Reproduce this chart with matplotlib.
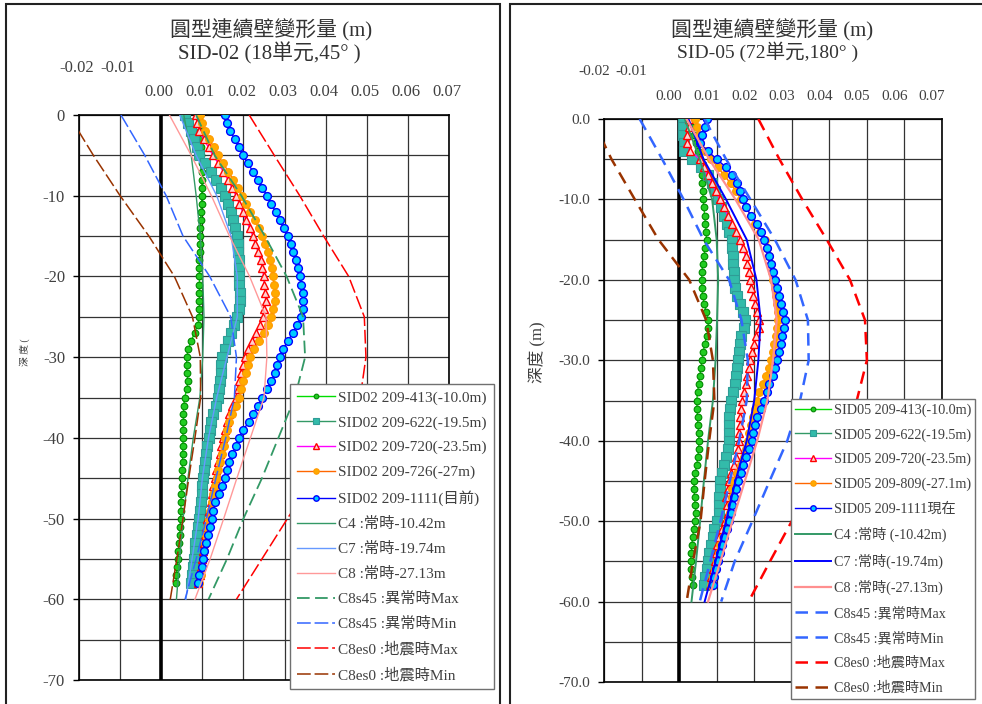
import matplotlib
matplotlib.use('Agg')
import matplotlib.pyplot as plt
import matplotlib.transforms as mtransforms
from matplotlib.patches import Rectangle

plt.rcParams['font.family'] = ['Liberation Serif', 'Noto Sans CJK TC']

# ---------------- data ----------------
depth = [0, -1, -2, -3, -4, -5, -6, -7, -8, -9,
         -10, -11, -12, -13, -14, -15, -16, -17, -18, -19,
         -20, -21, -22, -23, -24, -25, -26, -27, -28, -29,
         -30, -31, -32, -33, -34, -35, -36, -37, -38, -39,
         -40, -41, -42, -43, -44, -45, -46, -47, -48, -49,
         -50, -51, -52, -53, -54, -55, -56, -57, -58]
design_depth = [0, -5, -10, -15, -20, -25, -30, -35, -40, -45, -50, -55, -60]

x_ticks_neg = [-0.02, -0.01]
x_ticks_pos = [0.00, 0.01, 0.02, 0.03, 0.04, 0.05, 0.06, 0.07]
y_ticks = [0, -10, -20, -30, -40, -50, -60, -70]
y_grid = [-5, -15, -25, -35, -45, -55, -65]

# ---- SID-02 measured ----
left_413 = [0.0092, 0.0093, 0.0094, 0.0095, 0.0096, 0.0097, 0.0098, 0.0098, 0.0099, 0.0099,
            0.0099, 0.0098, 0.0097, 0.0096, 0.0095, 0.0095, 0.0094, 0.0094, 0.0093, 0.0093,
            0.0093, 0.0093, 0.0093, 0.0093, 0.0093, 0.0093, 0.0089, 0.0081, 0.0073, 0.0066,
            0.0062, 0.0062, 0.0063, 0.0065, 0.0062, 0.0057, 0.0055, 0.0054, 0.0054, 0.0053,
            0.0053, 0.0053, 0.0052, 0.0052, 0.0051, 0.0050, 0.0050, 0.0049, 0.0048, 0.0048,
            0.0047, 0.0046, 0.0045, 0.0044, 0.0042, 0.0041, 0.0039, 0.0037, 0.0036]
left_622 = [0.0057, 0.0064, 0.0072, 0.0080, 0.0087, 0.0093, 0.0106, 0.0120, 0.0134, 0.0145,
            0.0154, 0.0162, 0.0169, 0.0175, 0.0180, 0.0184, 0.0186, 0.0187, 0.0188, 0.0188,
            0.0189, 0.0190, 0.0191, 0.0192, 0.0189, 0.0184, 0.0178, 0.0170, 0.0162, 0.0155,
            0.0148, 0.0146, 0.0145, 0.0144, 0.0141, 0.0139, 0.0133, 0.0127, 0.0122, 0.0118,
            0.0115, 0.0112, 0.0109, 0.0106, 0.0104, 0.0102, 0.0100, 0.0099, 0.0097, 0.0095,
            0.0093, 0.0090, 0.0086, 0.0083, 0.0081, 0.0080, 0.0077, 0.0075, 0.0072]
left_720 = [0.0084, 0.0088, 0.0092, 0.0103, 0.0115, 0.0126, 0.0139, 0.0151, 0.0162, 0.0172,
            0.0182, 0.0190, 0.0198, 0.0206, 0.0215, 0.0223, 0.0229, 0.0236, 0.0242, 0.0246,
            0.0249, 0.0251, 0.0253, 0.0254, 0.0251, 0.0247, 0.0240, 0.0231, 0.0222, 0.0212,
            0.0203, 0.0198, 0.0194, 0.0190, 0.0186, 0.0181, 0.0173, 0.0166, 0.0159, 0.0154,
            0.0150, 0.0146, 0.0142, 0.0137, 0.0134, 0.0131, 0.0127, 0.0123, 0.0120, 0.0116,
            0.0112, 0.0109, 0.0106, 0.0104, 0.0102, 0.0100, 0.0097, 0.0094, 0.0090]
left_726 = [0.0095, 0.0100, 0.0106, 0.0117, 0.0128, 0.0138, 0.0151, 0.0163, 0.0175, 0.0186,
            0.0197, 0.0207, 0.0217, 0.0227, 0.0237, 0.0246, 0.0253, 0.0259, 0.0265, 0.0269,
            0.0272, 0.0274, 0.0276, 0.0276, 0.0272, 0.0268, 0.0260, 0.0251, 0.0239, 0.0226,
            0.0215, 0.0210, 0.0205, 0.0200, 0.0195, 0.0189, 0.0181, 0.0173, 0.0166, 0.0161,
            0.0156, 0.0152, 0.0147, 0.0143, 0.0139, 0.0135, 0.0131, 0.0127, 0.0123, 0.0119,
            0.0115, 0.0112, 0.0108, 0.0106, 0.0103, 0.0101, 0.0098, 0.0096, 0.0093]
left_1111 = [0.0154, 0.0161, 0.0168, 0.0179, 0.0189, 0.0199, 0.0211, 0.0223, 0.0235, 0.0246,
             0.0257, 0.0268, 0.0278, 0.0288, 0.0298, 0.0308, 0.0315, 0.0321, 0.0327, 0.0332,
             0.0337, 0.0340, 0.0344, 0.0346, 0.0344, 0.0341, 0.0331, 0.0320, 0.0308, 0.0297,
             0.0288, 0.0282, 0.0276, 0.0268, 0.0257, 0.0246, 0.0235, 0.0224, 0.0213, 0.0200,
             0.0189, 0.0181, 0.0173, 0.0166, 0.0161, 0.0156, 0.0148, 0.0140, 0.0132, 0.0127,
             0.0123, 0.0118, 0.0113, 0.0109, 0.0105, 0.0102, 0.0098, 0.0093, 0.0089]
# ---- SID-02 design ----
left_c4 = [0.0055, 0.0073, 0.0085, 0.0095, 0.0101, 0.0104, 0.0101, 0.0094, 0.0078, 0.0065, 0.0053, 0.0045, 0.0037]
left_c7 = [0.0045, 0.0085, 0.0135, 0.0170, 0.0185, 0.0185, 0.0160, 0.0135, 0.0115, 0.0100, 0.0090, 0.0075, 0.0060]
left_c8 = [0.0020, 0.0073, 0.0122, 0.0166, 0.0215, 0.0255, 0.0257, 0.0250, 0.0217, 0.0184, 0.0152, 0.0119, 0.0082]
left_s45_max = [0.0085, 0.0130, 0.0195, 0.0252, 0.0305, 0.0345, 0.0350, 0.0325, 0.0285, 0.0245, 0.0200, 0.0160, 0.0115]
left_s45_min = [-0.0098, -0.0040, 0.0012, 0.0053, 0.0118, 0.0169, 0.0183, 0.0178, 0.0157, 0.0133, 0.0110, 0.0085, 0.0058]
left_es0_max = [0.0214, 0.0275, 0.0337, 0.0395, 0.0456, 0.0494, 0.0498, 0.0484, 0.0430, 0.0370, 0.0307, 0.0245, 0.0183]
left_es0_min = [-0.0225, -0.0165, -0.0100, -0.0030, 0.0032, 0.0076, 0.0095, 0.0096, 0.0082, 0.0067, 0.0053, 0.0038, 0.0022]

# ---- SID-05 measured ----
right_413 = [0.0030, 0.0035, 0.0040, 0.0045, 0.0050, 0.0055, 0.0058, 0.0060, 0.0062, 0.0063,
             0.0064, 0.0066, 0.0068, 0.0070, 0.0072, 0.0073, 0.0070, 0.0066, 0.0063, 0.0061,
             0.0060, 0.0061, 0.0063, 0.0067, 0.0072, 0.0077, 0.0078, 0.0073, 0.0068, 0.0064,
             0.0061, 0.0058, 0.0055, 0.0052, 0.0049, 0.0047, 0.0048, 0.0049, 0.0050, 0.0052,
             0.0053, 0.0052, 0.0050, 0.0047, 0.0043, 0.0040, 0.0040, 0.0041, 0.0043, 0.0044,
             0.0042, 0.0039, 0.0036, 0.0034, 0.0032, 0.0031, 0.0032, 0.0034, 0.0036]
right_622 = [0.0010, 0.0010, 0.0011, 0.0012, 0.0014, 0.0035, 0.0058, 0.0076, 0.0087, 0.0096,
             0.0104, 0.0112, 0.0120, 0.0127, 0.0134, 0.0140, 0.0142, 0.0143, 0.0144, 0.0145,
             0.0146, 0.0150, 0.0155, 0.0162, 0.0170, 0.0175, 0.0172, 0.0166, 0.0162, 0.0159,
             0.0157, 0.0155, 0.0152, 0.0149, 0.0143, 0.0139, 0.0136, 0.0134, 0.0133, 0.0133,
             0.0133, 0.0129, 0.0124, 0.0119, 0.0114, 0.0110, 0.0108, 0.0107, 0.0107, 0.0107,
             0.0100, 0.0094, 0.0089, 0.0084, 0.0080, 0.0077, 0.0073, 0.0070, 0.0067]
right_720 = [0.0025, 0.0025, 0.0022, 0.0020, 0.0030, 0.0055, 0.0066, 0.0076, 0.0087, 0.0098,
             0.0108, 0.0119, 0.0130, 0.0141, 0.0152, 0.0162, 0.0170, 0.0177, 0.0182, 0.0186,
             0.0188, 0.0192, 0.0197, 0.0202, 0.0208, 0.0212, 0.0212, 0.0205, 0.0199, 0.0193,
             0.0188, 0.0185, 0.0182, 0.0178, 0.0172, 0.0168, 0.0165, 0.0163, 0.0161, 0.0160,
             0.0160, 0.0156, 0.0151, 0.0145, 0.0139, 0.0133, 0.0129, 0.0126, 0.0128, 0.0131,
             0.0122, 0.0114, 0.0107, 0.0102, 0.0098, 0.0095, 0.0090, 0.0085, 0.0081]
right_809 = [0.0042, 0.0047, 0.0052, 0.0055, 0.0068, 0.0086, 0.0103, 0.0120, 0.0137, 0.0152,
             0.0166, 0.0178, 0.0191, 0.0203, 0.0216, 0.0228, 0.0234, 0.0240, 0.0244, 0.0248,
             0.0251, 0.0255, 0.0258, 0.0261, 0.0263, 0.0264, 0.0261, 0.0257, 0.0253, 0.0250,
             0.0246, 0.0239, 0.0231, 0.0223, 0.0214, 0.0208, 0.0201, 0.0196, 0.0191, 0.0187,
             0.0184, 0.0179, 0.0174, 0.0166, 0.0155, 0.0143, 0.0141, 0.0140, 0.0138, 0.0135,
             0.0131, 0.0124, 0.0117, 0.0110, 0.0105, 0.0100, 0.0095, 0.0090, 0.0085]
right_1111 = [0.0075, 0.0068, 0.0060, 0.0055, 0.0077, 0.0100, 0.0125, 0.0140, 0.0153, 0.0162,
              0.0171, 0.0178, 0.0192, 0.0207, 0.0217, 0.0226, 0.0234, 0.0240, 0.0245, 0.0250,
              0.0255, 0.0260, 0.0265, 0.0271, 0.0277, 0.0282, 0.0280, 0.0275, 0.0270, 0.0265,
              0.0260, 0.0256, 0.0251, 0.0240, 0.0233, 0.0225, 0.0217, 0.0208, 0.0201, 0.0197,
              0.0193, 0.0186, 0.0179, 0.0171, 0.0164, 0.0157, 0.0152, 0.0147, 0.0141, 0.0137,
              0.0133, 0.0127, 0.0120, 0.0114, 0.0109, 0.0104, 0.0099, 0.0094, 0.0091]
# ---- SID-05 design ----
right_c4 = [0.0015, 0.0055, 0.0088, 0.0100, 0.0104, 0.0101, 0.0097, 0.0090, 0.0077, 0.0066, 0.0056, 0.0045, 0.0033]
right_c7 = [0.0025, 0.0065, 0.0125, 0.0180, 0.0206, 0.0217, 0.0211, 0.0200, 0.0180, 0.0150, 0.0125, 0.0097, 0.0068]
right_c8 = [0.0020, 0.0080, 0.0150, 0.0212, 0.0245, 0.0260, 0.0250, 0.0235, 0.0208, 0.0175, 0.0142, 0.0110, 0.0077]
right_s45_max = [0.0068, 0.0125, 0.0190, 0.0255, 0.0310, 0.0343, 0.0345, 0.0322, 0.0288, 0.0241, 0.0195, 0.0148, 0.0112]
right_s45_min = [-0.0105, -0.0045, 0.0012, 0.0065, 0.0133, 0.0166, 0.0183, 0.0180, 0.0160, 0.0135, 0.0110, 0.0083, 0.0055]
right_es0_max = [0.0211, 0.0267, 0.0328, 0.0393, 0.0455, 0.0495, 0.0500, 0.0473, 0.0415, 0.0360, 0.0300, 0.0242, 0.0185]
right_es0_min = [-0.0232, -0.0180, -0.0118, -0.0055, 0.0027, 0.0072, 0.0090, 0.0094, 0.0080, 0.0068, 0.0057, 0.0037, 0.0020]

left_meas_labels = ["SID02 209-413(-10.0m)", "SID02 209-622(-19.5m)", "SID02 209-720(-23.5m)",
                    "SID02 209-726(-27m)", "SID02 209-1111(目前)"]
left_design_labels = ["C4 :常時-10.42m", "C7 :常時-19.74m", "C8 :常時-27.13m",
                      "C8s45 :異常時Max", "C8s45 :異常時Min", "C8es0 :地震時Max", "C8es0 :地震時Min"]
right_meas_labels = ["SID05 209-413(-10.0m)", "SID05 209-622(-19.5m)", "SID05 209-720(-23.5m)",
                     "SID05 209-809(-27.1m)", "SID05 209-1111現在"]
right_design_labels = ["C4 :常時 (-10.42m)", "C7 :常時(-19.74m)", "C8 :常時(-27.13m)",
                       "C8s45 :異常時Max", "C8s45 :異常時Min", "C8es0 :地震時Max", "C8es0 :地震時Min"]

# ---------------- styling ----------------
W, H = 982, 704
fig = plt.figure(figsize=(W / 100, H / 100), dpi=100)
fig.patch.set_facecolor('white')

def fx(px):
    return px / W

def fy(py):
    return 1 - py / H

meas_styles = [
    dict(color='#00DD00', marker='o', ms=4.8, mfc='#22CC22', mec='#008800', mew=0.8, lw=1.0),
    dict(color='#339966', marker='s', ms=6.5, mfc='#33BBAA', mec='#2F9C96', mew=0.8, lw=1.0),
    dict(color='#FF00FF', marker='^', ms=6.0, mfc='#FFD0D0', mec='#FF0000', mew=1.0, lw=1.0),
    dict(color='#FF6600', marker='o', ms=5.6, mfc='#FFAA00', mec='#FF9900', mew=0.8, lw=1.0),
    dict(color='#0000FF', marker='o', ms=5.6, mfc='#00CCFF', mec='#0000FF', mew=1.0, lw=1.0),
]


def draw_panel(ax, meas, meas_labels, design, design_labels, design_styles,
               ylabels, tick_fs, label_offset_px):
    ax.set_xlim(-0.02, 0.07)
    ax.set_ylim(-70, 0)
    for xv in x_ticks_neg + x_ticks_pos:
        if xv == 0:
            ax.axvline(xv, color='black', lw=2.6, zorder=1)
        else:
            ax.axvline(xv, color='#333333', lw=0.9, zorder=0.5)
    for yv in y_ticks + y_grid:
        ax.axhline(yv, color='#333333', lw=0.9, zorder=0.5)
    for sp in ax.spines.values():
        sp.set_color('black')
        sp.set_linewidth(1.2)
    ax.set_xticks([])
    ax.set_yticks(y_ticks)
    ax.set_yticklabels(ylabels, fontsize=tick_fs, color='#404040')
    ax.tick_params(axis='y', length=4, width=1, direction='out', pad=6)
    trans = mtransforms.offset_copy(ax.get_xaxis_transform(), fig=fig,
                                    x=label_offset_px, y=0, units='dots')
    h_px = ax.get_position().height * H
    for xv in x_ticks_neg:
        ax.text(xv, 1 + 47 / h_px, f"{xv:.2f}", transform=trans, ha='center',
                va='center', fontsize=tick_fs, color='#404040', clip_on=False)
    for xv in x_ticks_pos:
        ax.text(xv, 1 + 23 / h_px, f"{xv:.2f}", transform=trans, ha='center',
                va='center', fontsize=tick_fs, color='#404040', clip_on=False)
    handles = []
    for vals, lab, st in zip(meas, meas_labels, meas_styles):
        h, = ax.plot(vals, depth, label=lab, zorder=3, **st)
        handles.append(h)
    for vals, lab, st in zip(design, design_labels, design_styles):
        h, = ax.plot(vals, design_depth, label=lab, zorder=4, **st)
        handles.append(h)
    return handles


# Left panel
axL = fig.add_axes([fx(79), fy(680), fx(449) - fx(79), fy(115) - fy(680)])
left_design_styles = [
    dict(color='#339966', lw=1.0),
    dict(color='#6699FF', lw=1.0),
    dict(color='#FF9999', lw=1.0),
    dict(color='#339966', lw=1.3, dashes=(7, 3)),
    dict(color='#3366FF', lw=1.1, dashes=(9, 2.5)),
    dict(color='#FF0000', lw=1.1, dashes=(9, 2.5)),
    dict(color='#993300', lw=1.1, dashes=(9, 2.5)),
]
hL = draw_panel(axL, [left_413, left_622, left_720, left_726, left_1111], left_meas_labels,
                [left_c4, left_c7, left_c8, left_s45_max, left_s45_min, left_es0_max, left_es0_min],
                left_design_labels, left_design_styles,
                [str(v) for v in y_ticks], 12, -2)

# Right panel
axR = fig.add_axes([fx(604), fy(682), fx(942) - fx(604), fy(119) - fy(682)])
right_design_styles = [
    dict(color='#339966', lw=1.4),
    dict(color='#0000FF', lw=1.4),
    dict(color='#FF8F8F', lw=1.6),
    dict(color='#3366FF', lw=1.8, dashes=(5, 3)),
    dict(color='#3366FF', lw=1.8, dashes=(5, 3)),
    dict(color='#FF0000', lw=1.8, dashes=(5, 3)),
    dict(color='#993300', lw=1.8, dashes=(5, 3)),
]
hR = draw_panel(axR, [right_413, right_622, right_720, right_809, right_1111], right_meas_labels,
                [right_c4, right_c7, right_c8, right_s45_max, right_s45_min, right_es0_max, right_es0_min],
                right_design_labels, right_design_styles,
                [f"{v:.1f}" for v in y_ticks], 11, -10)

# Legends
def make_legend(ax, handles, x0, y0, fs, spacing, pad):
    leg = ax.legend(handles=handles, loc='upper left',
                    bbox_to_anchor=(fx(x0), fy(y0)), bbox_transform=fig.transFigure,
                    fontsize=fs, frameon=True, fancybox=False, framealpha=1,
                    edgecolor='#707070', borderpad=pad, labelspacing=spacing,
                    handlelength=2.5, handletextpad=0.2, borderaxespad=0,
                    labelcolor='#404040', markerscale=0.7)
    leg.get_frame().set_linewidth(1.0)
    leg.set_zorder(10)
    return leg

make_legend(axL, hL, 290, 384, 11, 0.72, 0.45)
make_legend(axR, hR, 791, 399, 10.2, 0.8, 0.3)

# Titles
fig.text(fx(271), fy(30), "圓型連續壁變形量 (m)", ha='center', va='center', fontsize=15, color='#333333')
fig.text(fx(269), fy(53), "SID-02 (18単元,45° )", ha='center', va='center', fontsize=15, color='#333333')
fig.text(fx(772), fy(30), "圓型連續壁變形量 (m)", ha='center', va='center', fontsize=15, color='#333333')
fig.text(fx(768), fy(52), "SID-05 (72単元,180° )", ha='center', va='center', fontsize=14, color='#333333')

# Axis titles
fig.text(fx(25), fy(352), "深 度 (", rotation=90, ha='center', va='center', fontsize=7, color='#404040')
fig.text(fx(538), fy(352), "深度 (m)", rotation=90, ha='center', va='center', fontsize=12, color='#404040')

# Panel borders
fig.add_artist(Rectangle((fx(6), fy(720)), fx(500) - fx(6), fy(4) - fy(720),
                         transform=fig.transFigure, fill=False, edgecolor='#222222', lw=1.5))
fig.add_artist(Rectangle((fx(510), fy(720)), fx(1000) - fx(510), fy(4) - fy(720),
                         transform=fig.transFigure, fill=False, edgecolor='#222222', lw=1.5))

fig.savefig('out.png', dpi=100)
